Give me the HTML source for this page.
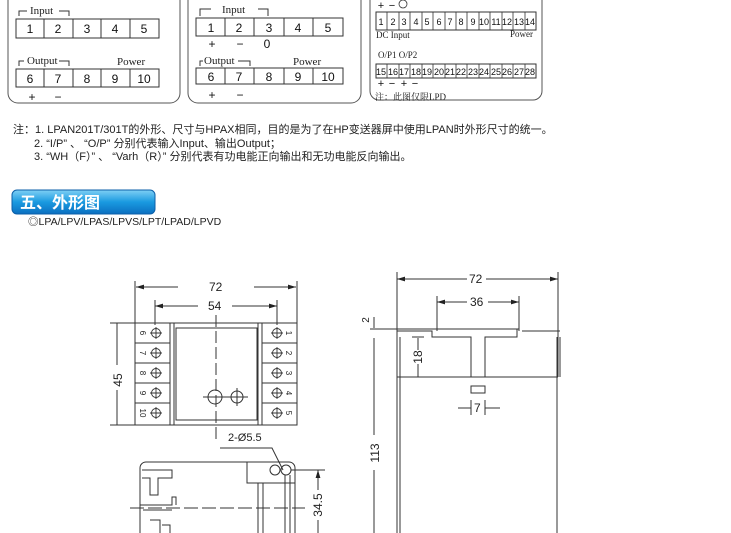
<!DOCTYPE html>
<html><head><meta charset="utf-8"><style>
body{margin:0;background:#fff;width:731px;height:533px;overflow:hidden;position:relative;font-family:"Liberation Sans","Noto Sans CJK SC",sans-serif}
.n{position:absolute;font-size:11px;color:#222;white-space:nowrap}
</style></head><body>
<svg width="731" height="533" style="position:absolute;left:0;top:0" font-family="Liberation Serif, serif">
<g fill="none" stroke="#555" stroke-width="1">
<path d="M8 0 V93 a10 10 0 0 0 10 10 H170 a10 10 0 0 0 10 -10 V0"/>
<path d="M188 0 V93 a10 10 0 0 0 10 10 H351 a10 10 0 0 0 10 -10 V0"/>
<path d="M370 0 V91 a9 9 0 0 0 9 9 H533 a9 9 0 0 0 9 -9 V0"/>
</g>
<g stroke="#333" fill="none" stroke-width="1">
<rect x="16" y="19" width="143" height="19"/><rect x="16" y="69" width="143" height="18"/>
<path d="M44 19V38M73 19V38M101 19V38M130 19V38M44 69V87M73 69V87M101 69V87M130 69V87"/>
<path d="M19 16V11H27M59 11H69V16M19 66V61H24M59 61H69V66"/>
<rect x="196" y="18" width="147" height="18"/><rect x="196" y="68" width="147" height="16"/>
<path d="M225 18V36M254 18V36M284 18V36M313 18V36M225 68V84M254 68V84M284 68V84M313 68V84"/>
<path d="M200 16V9H211M258 9H268V16M200 66V61H203M238 61H250V66"/>
<rect x="376" y="12" width="160" height="18"/><rect x="376" y="64" width="160" height="14"/>
</g>
<g stroke="#333" stroke-width="0.8"><path d="M387 12V30M399 12V30M410 12V30M422 12V30M433 12V30M445 12V30M456 12V30M467 12V30M479 12V30M490 12V30M502 12V30M513 12V30M525 12V30M387 64V78M399 64V78M410 64V78M422 64V78M433 64V78M445 64V78M456 64V78M467 64V78M479 64V78M490 64V78M502 64V78M513 64V78M525 64V78"/></g>
<g font-family="Liberation Sans, sans-serif" font-size="12" fill="#111" text-anchor="middle">
<text x="30" y="33">1</text><text x="58" y="33">2</text><text x="87" y="33">3</text><text x="115" y="33">4</text><text x="144" y="33">5</text>
<text x="30" y="83">6</text><text x="58" y="83">7</text><text x="87" y="83">8</text><text x="115" y="83">9</text><text x="144" y="83">10</text>
<text x="211" y="32">1</text><text x="239" y="32">2</text><text x="269" y="32">3</text><text x="298" y="32">4</text><text x="328" y="32">5</text>
<text x="211" y="81">6</text><text x="239" y="81">7</text><text x="269" y="81">8</text><text x="298" y="81">9</text><text x="328" y="81">10</text>
<text x="212" y="48">+</text><text x="240" y="48">−</text><text x="267" y="48">0</text>
<text x="32" y="101">+</text><text x="58" y="101">−</text><text x="212" y="99">+</text><text x="240" y="99">−</text>
</g>
<g font-family="Liberation Sans, sans-serif" font-size="9" fill="#111" text-anchor="middle">
<text x="381" y="25">1</text><text x="393" y="25">2</text><text x="404" y="25">3</text><text x="416" y="25">4</text><text x="427" y="25">5</text><text x="439" y="25">6</text><text x="450" y="25">7</text><text x="461" y="25">8</text><text x="473" y="25">9</text><text x="484" y="25">10</text><text x="496" y="25">11</text><text x="507" y="25">12</text><text x="519" y="25">13</text><text x="530" y="25">14</text>
<text x="381" y="75">15</text><text x="393" y="75">16</text><text x="404" y="75">17</text><text x="416" y="75">18</text><text x="427" y="75">19</text><text x="439" y="75">20</text><text x="450" y="75">21</text><text x="461" y="75">22</text><text x="473" y="75">23</text><text x="484" y="75">24</text><text x="496" y="75">25</text><text x="507" y="75">26</text><text x="519" y="75">27</text><text x="530" y="75">28</text>
<text x="381" y="87" font-size="11">+</text><text x="392" y="87" font-size="11">−</text><text x="404" y="87" font-size="11">+</text><text x="415" y="87" font-size="11">−</text>
<text x="381" y="9" font-size="11">+</text><text x="392" y="9" font-size="11">−</text>
</g>
<circle cx="403" cy="4" r="4" fill="none" stroke="#333" stroke-width="0.8"/>
<g font-size="11" fill="#222">
<text x="30" y="14">Input</text><text x="27" y="64">Output</text><text x="117" y="65">Power</text>
<text x="222" y="13">Input</text><text x="204" y="64">Output</text><text x="293" y="65">Power</text>
<text x="376" y="38" font-size="9">DC Input</text><text x="510" y="37" font-size="9">Power</text>
<text x="378" y="58" font-size="9">O/P1  O/P2</text>
<text x="375" y="100" font-size="9" font-family="Liberation Serif, Noto Serif CJK SC, serif">注：此图仅限LPD</text>
</g>
<defs><linearGradient id="g" x1="0" y1="0" x2="0" y2="1"><stop offset="0" stop-color="#7fd0f5"/><stop offset="0.5" stop-color="#1a9ae0"/><stop offset="1" stop-color="#0b6fc0"/></linearGradient>
<marker id="a" viewBox="0 0 10 6" refX="10" refY="3" markerWidth="8" markerHeight="5" orient="auto-start-reverse"><path d="M0 0L10 3L0 6z" fill="#222"/></marker></defs>
<rect x="12" y="190" width="143" height="24" rx="5" fill="url(#g)" stroke="#0b5fa8"/>
<text x="20" y="208" font-family="Liberation Sans, Noto Sans CJK SC, sans-serif" font-weight="bold" font-size="16" fill="#fff">五、外形图</text>
<g stroke="#333" fill="none" stroke-width="1">
<path d="M135 281V323M297 281V323M155 300V325M277 300V325M110 323H135M110 425H135"/>
<path d="M136 287H178M254 287H296" marker-start="url(#a)" marker-end="url(#a)"/>
<path d="M155 306H198M232 306H277" marker-start="url(#a)" marker-end="url(#a)"/>
<path d="M117 323V365M117 390V425"/>
<rect x="135" y="323" width="162" height="102"/>
<path d="M135 343H170M135 363H170M135 383H170M135 403H170M262 343H297M262 363H297M262 383H297M262 403H297"/>
<path d="M170 323V425M262 323V425M174 323V425M258 323V425"/>
<rect x="176" y="328" width="81" height="92"/>
<path d="M216 315V440" stroke-dasharray="12 4"/>
<circle cx="215" cy="397" r="7"/><circle cx="237" cy="397" r="6"/>
<path d="M203 397H248M237 388V406"/>
<g stroke-width="0.9">
<circle cx="156" cy="333" r="4.5"/><circle cx="156" cy="353" r="4.5"/><circle cx="156" cy="373" r="4.5"/><circle cx="156" cy="393" r="4.5"/><circle cx="156" cy="413" r="4.5"/>
<circle cx="277" cy="333" r="4.5"/><circle cx="277" cy="353" r="4.5"/><circle cx="277" cy="373" r="4.5"/><circle cx="277" cy="393" r="4.5"/><circle cx="277" cy="413" r="4.5"/>
<path d="M150 333H162M156 327V339M150 353H162M156 347V359M150 373H162M156 367V379M150 393H162M156 387V399M150 413H162M156 407V419"/>
<path d="M271 333H283M277 327V339M271 353H283M277 347V359M271 373H283M277 367V379M271 393H283M277 387V399M271 413H283M277 407V419"/>
</g>
<path d="M220 448H272L283 470"/>
<path d="M140 533V468a6 6 0 0 1 6 -6H289a6 6 0 0 1 6 6V533"/>
<path d="M140 505H172V497H176V505M143 510H172"/>
<path d="M142 470H172V478H158V495H150V478H142"/>
<path d="M247 462V483H295M258 483V533M263 483V533M285 475V533M290 475V533"/>
<circle cx="275" cy="470" r="5"/><circle cx="286" cy="470" r="5"/>
<path d="M291 470H325"/>
<path d="M318 470V490M318 520V533" marker-start="url(#a)"/>
<path d="M130 508H305" stroke-dasharray="14 4"/>
<path d="M150 520H160V533M162 525H170V533"/>
<path d="M397 272V533M558 272V377M437 296V331M519 296V331"/>
<path d="M397 279H467M486 279H558" marker-start="url(#a)" marker-end="url(#a)"/>
<path d="M437 302H467M488 302H519" marker-start="url(#a)" marker-end="url(#a)"/>
<path d="M370 329H519M522 331H560"/>
<path d="M397 331H432V337H471V377M485 377V337H517V329"/>
<path d="M397 377H558M557 337V377M560 337V377M557 377V533M400 337V533"/>
<rect x="471" y="386" width="14" height="7"/>
<path d="M471 400V415M485 400V415M458 408H471M485 408H500"/>
<path d="M418 338V350M418 364V377M412 337H424"/>
<path d="M374 317V328M374 338V435M374 470V533"/>
</g>
<g fill="#222" font-size="12" font-family="Liberation Sans, sans-serif">
<g font-size="8" text-anchor="middle">
<text x="143" y="336" transform="rotate(90 143 333)">6</text><text x="143" y="356" transform="rotate(90 143 353)">7</text><text x="143" y="376" transform="rotate(90 143 373)">8</text><text x="143" y="396" transform="rotate(90 143 393)">9</text><text x="143" y="416" transform="rotate(90 143 413)">10</text>
<text x="289" y="336" transform="rotate(90 289 333)">1</text><text x="289" y="356" transform="rotate(90 289 353)">2</text><text x="289" y="376" transform="rotate(90 289 373)">3</text><text x="289" y="396" transform="rotate(90 289 393)">4</text><text x="289" y="416" transform="rotate(90 289 413)">5</text>
</g>
<text x="209" y="291">72</text><text x="208" y="310">54</text>
<text x="122" y="380" transform="rotate(-90 122 380)" text-anchor="middle">45</text>
<text x="228" y="441" font-size="11">2-Ø5.5</text>
<text x="322" y="505" transform="rotate(-90 322 505)" text-anchor="middle">34.5</text>
<text x="469" y="283">72</text><text x="470" y="306">36</text>
<text x="474" y="412">7</text>
<text x="422" y="357" transform="rotate(-90 422 357)" text-anchor="middle">18</text>
<text x="379" y="453" transform="rotate(-90 379 453)" text-anchor="middle">113</text>
<text x="369" y="320" transform="rotate(-90 369 320)" text-anchor="middle" font-size="10">2</text>
</g>
</svg>
<div class="n" style="left:13px;top:121px">注：1. LPAN201T/301T的外形、尺寸与HPAX相同，目的是为了在HP变送器屏中使用LPAN时外形尺寸的统一。</div>
<div class="n" style="left:34px;top:135px">2. “I/P” 、 “O/P” 分别代表输入Input、输出Output；</div>
<div class="n" style="left:34px;top:148px">3. “WH（F）” 、 “Varh（R）” 分别代表有功电能正向输出和无功电能反向输出。</div>
<div class="n" style="left:28px;top:214px;font-size:10.5px">◎LPA/LPV/LPAS/LPVS/LPT/LPAD/LPVD</div>
</body></html>
